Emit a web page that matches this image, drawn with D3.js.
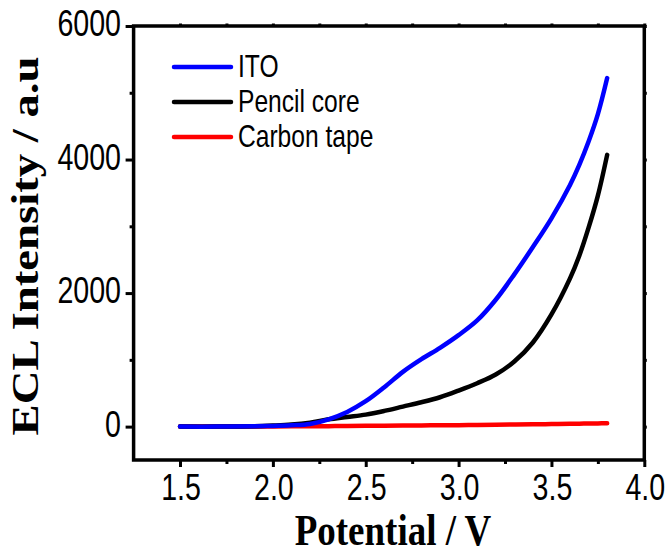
<!DOCTYPE html>
<html><head><meta charset="utf-8">
<script src="https://cdn.jsdelivr.net/npm/d3@7"></script>
<style>body{margin:0;background:#fff}</style>
</head><body>
<svg id="chart" width="668" height="554"></svg>
<script>
const potential = [1.5,1.7,1.9,2.0,2.1,2.2,2.3,2.4,2.5,2.6,2.7,2.8,2.9,3.0,3.1,3.2,3.3,3.4,3.5,3.6,3.65,3.7,3.75,3.8];
const itoValues = [0,0,5,10,20,40,110,220,380,590,820,1010,1180,1370,1590,1900,2280,2690,3120,3620,3920,4270,4680,5220];
const pencilValues = [0,0,5,15,30,60,110,145,180,235,300,365,440,540,650,780,975,1260,1680,2220,2560,2980,3460,4070];
const carbonValues = [0,0,1,3,4,5,7,9,12,14,16,18,20,22,25,28,31,34,38,42,44,46,48,50];
const seriesNames = ["ITO","Pencil core","Carbon tape"];
const seriesColors = ["#0000ff","#000000","#ff0000"];
const xTickValues = [1.5,2.0,2.5,3.0,3.5,4.0];
const xTickLabels = ["1.5","2.0","2.5","3.0","3.5","4.0"];
const xMinorValues = [1.75,2.25,2.75,3.25,3.75];
const yTickValues = [0,2000,4000,6000];
const yTickLabels = ["0","2000","4000","6000"];
const yMinorValues = [1000,3000,5000];
const xLabel = "Potential / V";
const yLabel = "ECL Intensity / a.u";

const svg = d3.select("#chart");
const L = 133.6, R = 644.3, T = 26, B = 460;
const x = d3.scaleLinear().domain([1.25,4.0]).range([L,R]);
const y = d3.scaleLinear().domain([-500,6000]).range([B,T]);
const sans = "'Liberation Sans', Arial, sans-serif";
const serif = "'Liberation Serif', 'Times New Roman', serif";

// series
const allSeries = [itoValues, pencilValues, carbonValues];
const line = d3.line().x((d,i)=>x(potential[i])).y(d=>y(d)).curve(d3.curveCatmullRom.alpha(0.5));
[2,1,0].forEach(k=>{
  svg.append("path").datum(allSeries[k]).attr("d",line)
    .attr("fill","none").attr("stroke",seriesColors[k]).attr("stroke-width",4.5)
    .attr("stroke-linecap","round").attr("stroke-linejoin","round");
});

// axes
function ax(axis, tx, ty){ const g = svg.append("g").attr("transform",`translate(${tx},${ty})`).call(axis);
  g.select(".domain").remove(); g.selectAll("line").attr("stroke","#000").attr("stroke-width",3); g.selectAll("text").remove(); return g; }
ax(d3.axisBottom(x).tickValues(xTickValues).tickSize(7), 0, B);
ax(d3.axisBottom(x).tickValues(xMinorValues).tickSize(4), 0, B);
ax(d3.axisLeft(y).tickValues(yTickValues).tickSize(8), L, 0);
ax(d3.axisLeft(y).tickValues(yMinorValues).tickSize(4), L, 0);
ax(d3.axisTop(x).tickValues(xTickValues.concat(xMinorValues)).tickSize(2.5), 0, T);
ax(d3.axisRight(y).tickValues(yTickValues.concat(yMinorValues)).tickSize(2.5), R, 0);
svg.append("rect").attr("x",L).attr("y",T).attr("width",R-L).attr("height",B-T)
  .attr("fill","none").attr("stroke","#000").attr("stroke-width",3.5);

// tick labels
xTickValues.forEach((v,i)=>{
  svg.append("text").attr("transform",`translate(${x(v)+1},500) scale(1,1.27)`)
    .attr("text-anchor","middle").attr("font-family",sans).attr("font-size",28.6).text(xTickLabels[i]);
});
yTickValues.forEach((v,i)=>{
  svg.append("text").attr("transform",`translate(121,${y(v)+10}) scale(1,1.27)`)
    .attr("text-anchor","end").attr("font-family",sans).attr("font-size",28.6).text(yTickLabels[i]);
});

// axis titles
svg.append("text").attr("transform","translate(393,545) scale(1,1.18)")
  .attr("text-anchor","middle").attr("font-family",serif).attr("font-weight","bold").attr("font-size",37).text(xLabel);
svg.append("text").attr("transform","translate(38,246) scale(1,1.23) rotate(-90)")
  .attr("text-anchor","middle").attr("font-family",serif).attr("font-weight","bold").attr("font-size",38).text(yLabel);

// legend
seriesNames.forEach((n,i)=>{
  const ly = 67 + i*35;
  svg.append("line").attr("x1",174).attr("x2",231).attr("y1",ly).attr("y2",ly)
    .attr("stroke",seriesColors[i]).attr("stroke-width",4.5).attr("stroke-linecap","round");
  svg.append("text").attr("transform",`translate(238,${ly+10}) scale(1,1.25)`)
    .attr("font-family",sans).attr("font-size",24.6).text(n);
});
</script>
</body></html>
